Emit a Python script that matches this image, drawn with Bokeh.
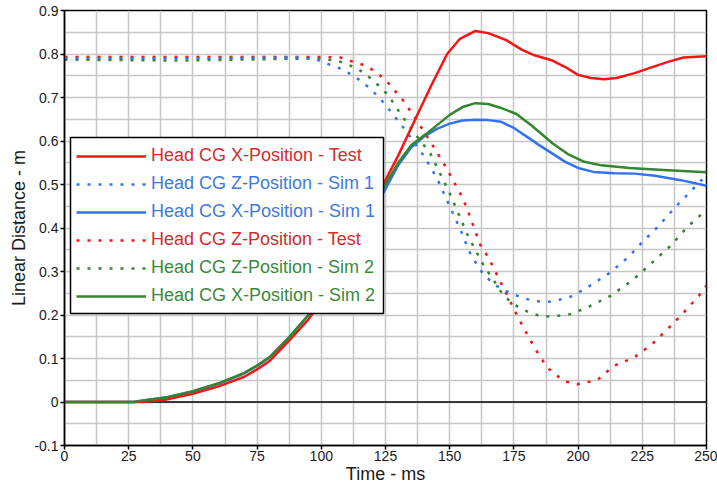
from bokeh.plotting import figure
from bokeh.models import (Range1d, FixedTicker, Legend, LegendItem, Span, BoxAnnotation)
from bokeh.embed import file_html
from bokeh.resources import INLINE

# ---------------- data ----------------
x_ticks = [0, 25, 50, 75, 100, 125, 150, 175, 200, 225, 250]
x_minor = [12.5, 37.5, 62.5, 87.5, 112.5, 137.5, 162.5, 187.5, 212.5, 237.5]
y_ticks = [-0.1, 0, 0.1, 0.2, 0.3, 0.4, 0.5, 0.6, 0.7, 0.8, 0.9]
y_tick_labels = ["-0.1", "0", "0.1", "0.2", "0.3", "0.4", "0.5", "0.6", "0.7", "0.8", "0.9"]
y_minor = [-0.05, 0.05, 0.15, 0.25, 0.35, 0.45, 0.55, 0.65, 0.75, 0.85]

# Head CG X-Position - Test
t_x_test = [0, 30, 40, 50, 60, 70, 75, 80, 87, 95, 100, 110, 120, 125, 130, 137, 143, 149, 154,
            160, 165, 172, 178, 183, 190, 195, 200, 205, 210, 215, 222, 228, 235, 241, 250]
x_test = [0, 0, 0.006, 0.019, 0.036, 0.058, 0.075, 0.095, 0.138, 0.19, 0.232, 0.325, 0.44, 0.51,
          0.567, 0.655, 0.73, 0.80, 0.835, 0.853, 0.848, 0.832, 0.81, 0.797, 0.785, 0.77, 0.752,
          0.745, 0.742, 0.745, 0.756, 0.768, 0.782, 0.792, 0.795]

# Head CG X-Position - Sim 1
t_x_sim1 = [0, 27, 30, 40, 50, 60, 70, 75, 80, 87, 95, 100, 110, 120, 125, 130, 135, 140, 145, 150,
            155, 160, 165, 170, 175, 180, 185, 190, 195, 200, 206, 214, 222, 230, 240, 250]
x_sim1 = [0, 0, 0.003, 0.011, 0.024, 0.042, 0.066, 0.083, 0.103, 0.145, 0.2, 0.24, 0.33, 0.435,
          0.49, 0.545, 0.585, 0.61, 0.628, 0.64, 0.647, 0.649, 0.648, 0.644, 0.63, 0.61, 0.59,
          0.571, 0.552, 0.538, 0.529, 0.526, 0.525, 0.52, 0.51, 0.497]

# Head CG X-Position - Sim 2
t_x_sim2 = [0, 27, 30, 40, 50, 60, 70, 75, 80, 87, 95, 100, 110, 120, 125, 130, 135, 141, 150,
            155, 160, 165, 170, 176, 182, 190, 196, 202, 209, 220, 235, 250]
x_sim2 = [0, 0, 0.003, 0.011, 0.025, 0.043, 0.067, 0.084, 0.104, 0.146, 0.2, 0.24, 0.33, 0.44,
          0.5, 0.55, 0.59, 0.617, 0.66, 0.678, 0.687, 0.685, 0.676, 0.662, 0.635, 0.595, 0.57,
          0.553, 0.544, 0.538, 0.533, 0.528]

# Head CG Z-Position - Test
t_z_test = [0, 50, 100, 107.5, 111.4, 115.9, 119.8, 123, 126.3, 132, 138, 143.8, 149, 154.2, 156.5,
            159.4, 162, 165.3, 169, 173, 177, 183.4, 188, 194.4, 199.6, 207.4, 213.9, 221.7, 228.8,
            234.7, 241.2, 247, 250]
z_test = [0.793, 0.793, 0.793, 0.792, 0.784, 0.776, 0.764, 0.75, 0.732, 0.692, 0.64, 0.586, 0.535,
          0.478, 0.449, 0.402, 0.36, 0.33, 0.285, 0.238, 0.19, 0.121, 0.079, 0.048, 0.041, 0.05,
          0.083, 0.102, 0.133, 0.167, 0.206, 0.244, 0.268]

# Head CG Z-Position - Sim 1
t_z_sim1 = [0, 50, 90, 97, 100.3, 106.8, 112.7, 117.9, 122.4, 127, 133.4, 140, 145, 150, 155,
            157.4, 160, 162.6, 167, 173, 178, 183, 188, 191, 198, 204, 212.6, 219.7, 225.6, 231.4,
            238, 244, 250]
z_sim1 = [0.79, 0.79, 0.792, 0.79, 0.782, 0.768, 0.75, 0.726, 0.701, 0.668, 0.62, 0.565, 0.515,
          0.45, 0.385, 0.348, 0.322, 0.298, 0.271, 0.252, 0.24, 0.232, 0.23, 0.232, 0.244, 0.265,
          0.298, 0.334, 0.371, 0.405, 0.449, 0.485, 0.522]

# Head CG Z-Position - Sim 2
t_z_sim2 = [0, 45, 100, 107.5, 114, 119.2, 123.7, 126.3, 130.8, 136, 142.5, 150.3, 156.8, 159.4,
            163.3, 166, 170.4, 174, 178.9, 184, 189.3, 197, 203.5, 212.6, 221, 228.2, 236, 242.5,
            250]
z_sim2 = [0.787, 0.785, 0.79, 0.782, 0.767, 0.744, 0.72, 0.703, 0.663, 0.62, 0.571, 0.476, 0.386,
          0.356, 0.313, 0.29, 0.25, 0.228, 0.211, 0.2, 0.196, 0.202, 0.217, 0.244, 0.279, 0.317,
          0.359, 0.402, 0.442]

RED, BLUE, GREEN = "#f51515", "#3573ee", "#33862f"
RED_T, BLUE_T, GREEN_T = "#d52b2b", "#4079dc", "#3a8a3a"
FONT = "Liberation Sans"
DOT = "3 8"

p = figure(width=717, height=488, x_range=Range1d(0, 250), y_range=Range1d(-0.1, 0.9),
           output_backend="svg", toolbar_location=None,
           min_border_left=64, min_border_right=11, min_border_top=10, min_border_bottom=43)
p.background_fill_color = "white"
p.border_fill_color = "white"
p.outline_line_color = "black"
p.outline_line_width = 1.5

p.xaxis.ticker = FixedTicker(ticks=x_ticks, minor_ticks=x_minor)
p.yaxis.ticker = FixedTicker(ticks=y_ticks, minor_ticks=y_minor)
p.yaxis.major_label_overrides = dict(zip(y_ticks, y_tick_labels))
for ax in (p.xaxis, p.yaxis):
    ax.axis_line_color = "black"
    ax.axis_line_width = 1.5
    ax.major_tick_line_color = "black"
    ax.major_tick_line_width = 1.5
    ax.major_tick_out = 4
    ax.major_tick_in = 0
    ax.minor_tick_line_color = None
    ax.major_label_text_font = FONT
    ax.major_label_text_font_size = "14px"
    ax.major_label_text_color = "#1a1a1a"
    ax.axis_label_text_font = FONT
    ax.axis_label_text_font_size = "18px"
    ax.axis_label_text_font_style = "normal"
    ax.axis_label_text_color = "#1a1a1a"
p.xaxis.axis_label = "Time - ms"
p.yaxis.axis_label = "Linear Distance - m"
p.xaxis.major_label_standoff = 1
p.xaxis.axis_label_standoff = 0
p.yaxis.major_label_standoff = 2
p.yaxis.axis_label_standoff = 2

for g in (p.xgrid, p.ygrid):
    g.grid_line_color = "#c6c6c6"
    g.grid_line_width = 1.5
    g.minor_grid_line_color = "#c6c6c6"
    g.minor_grid_line_width = 1.5

zero = Span(location=0, dimension="width", line_color="black", line_width=1.5, level="underlay")
p.add_layout(zero)

r_zt = p.line(t_z_test, z_test, line_color=RED, line_width=2.5, line_dash=DOT)
r_z2 = p.line(t_z_sim2, z_sim2, line_color=GREEN, line_width=2.5, line_dash=DOT)
r_z1 = p.line(t_z_sim1, z_sim1, line_color=BLUE, line_width=2.5, line_dash=DOT)
r_x1 = p.line(t_x_sim1, x_sim1, line_color=BLUE, line_width=2.5)
r_xt = p.line(t_x_test, x_test, line_color=RED, line_width=2.5)
r_x2 = p.line(t_x_sim2, x_sim2, line_color=GREEN, line_width=2.5)

# legend box
box = BoxAnnotation(left=6, right=319, bottom=132, top=308,
                    left_units="screen", right_units="screen",
                    bottom_units="screen", top_units="screen",
                    fill_color="white", fill_alpha=1.0,
                    line_color="black", line_alpha=1.0, line_width=1.5)
p.add_layout(box)

entries = [
    ("Head CG X-Position - Test", r_xt, RED_T),
    ("Head CG Z-Position - Sim 1", r_z1, BLUE_T),
    ("Head CG X-Position - Sim 1", r_x1, BLUE_T),
    ("Head CG Z-Position - Test", r_zt, RED_T),
    ("Head CG Z-Position - Sim 2", r_z2, GREEN_T),
    ("Head CG X-Position - Sim 2", r_x2, GREEN_T),
]
for i, (lab, r, col) in enumerate(entries):
    lg = Legend(items=[LegendItem(label=lab, renderers=[r])],
                location=(12, 279 - 28 * i), padding=0, margin=0, spacing=0,
                glyph_width=70, glyph_height=20, label_height=20, label_standoff=5,
                label_text_font=FONT, label_text_font_size="18px",
                label_text_color=col, label_text_baseline="middle",
                background_fill_alpha=0, border_line_alpha=0)
    p.add_layout(lg, "center")

open("out.html", "w").write(file_html(p, INLINE))
